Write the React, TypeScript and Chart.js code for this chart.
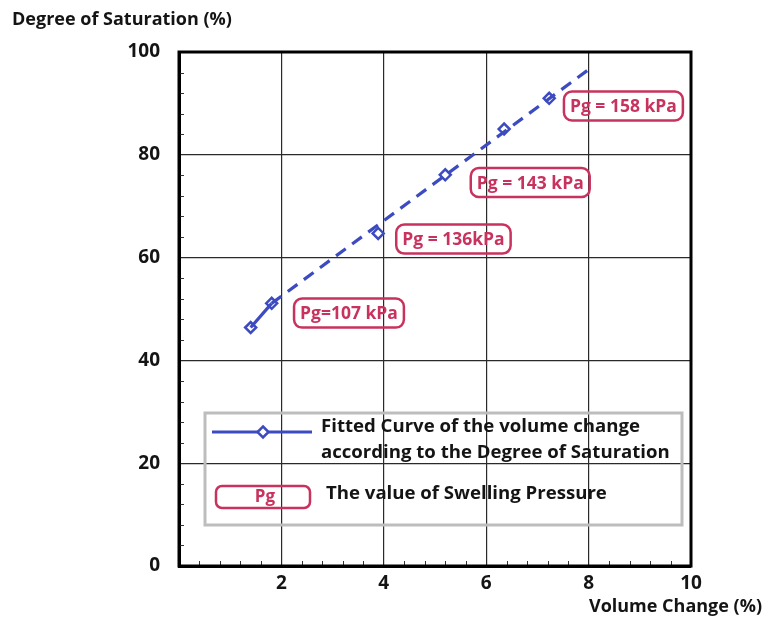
import React, { useEffect, useRef } from 'react';
import { Chart, registerables } from 'chart.js';

Chart.register(...registerables);

// ---- data ----
const volumeChange = [1.4, 1.81, 3.89, 5.2, 6.35, 7.23];
const saturation = [46.4, 51.1, 64.7, 76.1, 85.0, 91.0];
const fitVolume = [1.4, 1.81, 8.03];
const fitSaturation = [46.4, 51.1, 96.8];
const xTicks = [2, 4, 6, 8, 10];
const yTicks = [0, 20, 40, 60, 80, 100];
const pgLabels = ['Pg=107 kPa', 'Pg = 136kPa', 'Pg = 143 kPa', 'Pg = 158 kPa'];
const pgVolume = [3.32, 5.36, 6.86, 8.68];
const pgSaturation = [49.2, 63.6, 74.6, 89.5];
const yTitle = 'Degree of Saturation (%)';
const xTitle = 'Volume Change (%)';
const legendLines = ['Fitted Curve of the volume change', 'according to the Degree of Saturation'];
const legendPg = 'The value of Swelling Pressure';

const FONT = '"Open Sans", Lato, sans-serif';
const BLUE = '#3D4BC0';
const RED = '#C8325E';
const INK = '#141414';

function diamond(ctx: CanvasRenderingContext2D, x: number, y: number, r: number) {
  ctx.beginPath();
  ctx.moveTo(x, y - r);
  ctx.lineTo(x + r, y);
  ctx.lineTo(x, y + r);
  ctx.lineTo(x - r, y);
  ctx.closePath();
  ctx.fillStyle = '#fff';
  ctx.fill();
  ctx.strokeStyle = BLUE;
  ctx.lineWidth = 2.5;
  ctx.stroke();
}

const extras = {
  id: 'extras',
  afterDraw(chart: any) {
    const ctx: CanvasRenderingContext2D = chart.ctx;
    const a = chart.chartArea;
    const xs = chart.scales.x;
    const ys = chart.scales.y;
    ctx.save();

    // minor ticks
    ctx.strokeStyle = '#333';
    ctx.lineWidth = 1;
    ctx.beginPath();
    for (let v = 4; v < 100; v += 4) {
      if (v % 20 === 0) continue;
      const y = Math.round(ys.getPixelForValue(v)) + 0.5;
      ctx.moveTo(a.left, y);
      ctx.lineTo(a.left + 5, y);
    }
    for (let k = 1; k < 25; k++) {
      if (k % 5 === 0) continue;
      const x = Math.round(xs.getPixelForValue(k * 0.4)) + 0.5;
      ctx.moveTo(x, a.bottom);
      ctx.lineTo(x, a.bottom - 5);
    }
    ctx.stroke();

    // frame
    ctx.strokeStyle = '#000';
    ctx.lineWidth = 3;
    ctx.strokeRect(a.left, a.top, a.right - a.left, a.bottom - a.top);

    // axis titles
    ctx.fillStyle = INK;
    ctx.font = `bold 18px ${FONT}`;
    ctx.textBaseline = 'middle';
    ctx.textAlign = 'left';
    ctx.fillText(yTitle, 12, 20);
    ctx.textAlign = 'right';
    ctx.fillText(xTitle, 762, 607);

    // legend
    const lx = a.left + 26;
    const ly = a.top + 361;
    ctx.strokeStyle = '#BDBDBD';
    ctx.lineWidth = 3;
    ctx.strokeRect(lx, ly, 477, 112);
    ctx.strokeStyle = BLUE;
    ctx.lineWidth = 3;
    ctx.beginPath();
    ctx.moveTo(lx + 7, ly + 19);
    ctx.lineTo(lx + 107, ly + 19);
    ctx.stroke();
    diamond(ctx, lx + 58, ly + 19, 5.5);
    ctx.fillStyle = INK;
    ctx.font = `bold 18.6px ${FONT}`;
    ctx.textAlign = 'left';
    ctx.fillText(legendLines[0], lx + 116, ly + 14);
    ctx.fillText(legendLines[1], lx + 116, ly + 40);
    ctx.fillText(legendPg, lx + 121, ly + 81);
    ctx.strokeStyle = RED;
    ctx.lineWidth = 2.5;
    ctx.beginPath();
    (ctx as any).roundRect(lx + 11, ly + 73, 94, 22, 6);
    ctx.stroke();
    ctx.fillStyle = RED;
    ctx.font = `bold 17px ${FONT}`;
    ctx.textAlign = 'center';
    ctx.fillText('Pg', lx + 60, ly + 84);

    // Pg labels
    ctx.font = `bold 17.5px ${FONT}`;
    for (let i = 0; i < pgLabels.length; i++) {
      const cx = xs.getPixelForValue(pgVolume[i]);
      const cy = ys.getPixelForValue(pgSaturation[i]);
      const w = ctx.measureText(pgLabels[i]).width + 12;
      const h = 29;
      ctx.strokeStyle = RED;
      ctx.lineWidth = 2.5;
      ctx.beginPath();
      (ctx as any).roundRect(cx - w / 2, cy - h / 2, w, h, 8);
      ctx.stroke();
      ctx.fillStyle = RED;
      ctx.textAlign = 'center';
      ctx.fillText(pgLabels[i], cx, cy + 1);
    }
    ctx.restore();
  },
};

export default function App() {
  const ref = useRef<HTMLCanvasElement | null>(null);
  useEffect(() => {
    if (!ref.current) return;
    const tickFont = { family: FONT, size: 19, weight: 'bold' as const };
    const chart = new Chart(ref.current, {
      type: 'scatter',
      data: {
        datasets: [
          {
            label: 'fit',
            data: fitVolume.map((x, i) => ({ x, y: fitSaturation[i] })),
            showLine: true,
            borderColor: BLUE,
            borderWidth: 3.2,
            pointRadius: 0,
            segment: {
              borderDash: (c: any) => (c.p0DataIndex >= 1 ? [12, 8] : undefined),
            },
          } as any,
          {
            label: 'points',
            data: volumeChange.map((x, i) => ({ x, y: saturation[i] })),
            showLine: false,
            pointStyle: 'rectRot',
            pointRadius: 5.5,
            pointBorderWidth: 2.5,
            borderColor: BLUE,
            backgroundColor: '#fff',
          },
        ],
      },
      options: {
        responsive: false,
        animation: false,
        layout: { padding: { top: 52, right: 72, left: 0, bottom: 0 } },
        plugins: { legend: { display: false }, tooltip: { enabled: false } },
        scales: {
          x: {
            type: 'linear',
            min: 0,
            max: 10,
            afterFit: (s: any) => {
              s.height = 56;
            },
            afterBuildTicks: (s: any) => {
              s.ticks = xTicks.map((v) => ({ value: v }));
            },
            grid: { color: '#2a2a2a', lineWidth: 1.2, drawTicks: false },
            border: { color: '#000', width: 3 },
            ticks: { padding: 6, color: INK, font: tickFont, maxRotation: 0, autoSkip: false },
          },
          y: {
            type: 'linear',
            min: 0,
            max: 100,
            afterFit: (s: any) => {
              s.width = 179;
            },
            afterBuildTicks: (s: any) => {
              s.ticks = yTicks.map((v) => ({ value: v }));
            },
            grid: { color: '#2a2a2a', lineWidth: 1.2, drawTicks: false },
            border: { color: '#000', width: 3 },
            ticks: { padding: 19, color: INK, font: tickFont, autoSkip: false },
          },
        },
      },
      plugins: [extras],
    });
    return () => chart.destroy();
  }, []);
  return (
    <div style={{ position: 'absolute', left: 0, top: 0, width: 763, height: 622, background: '#fff' }}>
      <canvas ref={ref} width={763} height={622} style={{ display: 'block' }} />
    </div>
  );
}
